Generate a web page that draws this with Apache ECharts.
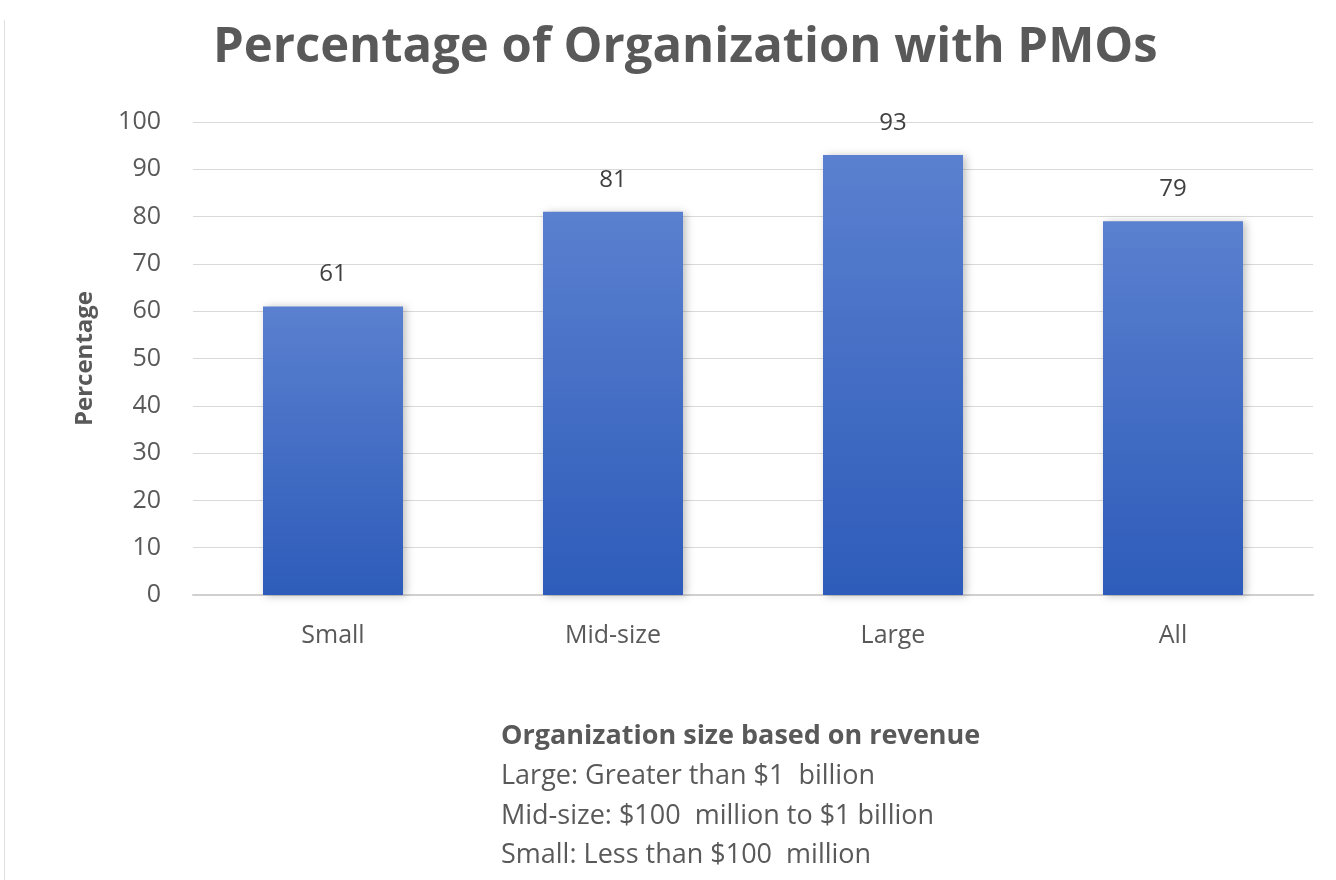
<!DOCTYPE html>
<html>
<head>
<meta charset="utf-8">
<script src="https://cdn.jsdelivr.net/npm/echarts@6/dist/echarts.min.js"></script>
<style>html,body{margin:0;padding:0;background:#fff;}#c{width:1336px;height:880px;}</style>
</head>
<body>
<div id="c"></div>
<script>
const titleText = 'Percentage of Organization with PMOs';
const categories = ['Small', 'Mid-size', 'Large', 'All'];
const values = [61, 81, 93, 79];
const yTicks = [0, 10, 20, 30, 40, 50, 60, 70, 80, 90, 100];
const yAxisName = 'Percentage';
const noteHeading = 'Organization size based on revenue';
const noteLines = ['Large: Greater than $1  billion', 'Mid-size: $100  million to $1 billion', 'Small: Less than $100  million'];

const chart = echarts.init(document.getElementById('c'));
const fontFam = '"Open Sans", "Noto Sans", sans-serif';
chart.setOption({
  backgroundColor: '#ffffff',
  animation: false,
  title: [{
    text: titleText,
    left: 208,
    top: 19,
    textStyle: { fontFamily: fontFam, fontSize: 49, fontWeight: 'bold', color: '#595959' }
  }, {
    text: noteHeading,
    left: 496,
    top: 718,
    textStyle: { fontFamily: fontFam, fontSize: 27, fontWeight: 'bold', color: '#595959' }
  }, {
    text: noteLines.join('\n'),
    left: 496,
    top: 752,
    textStyle: { fontFamily: fontFam, fontSize: 27, fontWeight: 'normal', color: '#595959', lineHeight: 39.3 }
  }],
  grid: { left: 193, right: 23, top: 122, bottom: 285, containLabel: false },
  xAxis: {
    type: 'category',
    data: categories,
    axisLine: { show: true, lineStyle: { color: '#d0d0d0', width: 2 } },
    axisTick: { show: false },
    axisLabel: { fontFamily: fontFam, fontSize: 25, color: '#595959', margin: 28 }
  },
  yAxis: {
    type: 'value',
    min: 0, max: 100, interval: 10,
    name: yAxisName,
    nameLocation: 'middle',
    nameGap: 96,
    nameTextStyle: { fontFamily: fontFam, fontSize: 24, fontWeight: 'bold', color: '#595959' },
    axisLine: { show: false },
    axisTick: { show: false },
    splitLine: { lineStyle: { color: '#d9d9d9', width: 1 } },
    axisLabel: {
      fontFamily: fontFam, fontSize: 25, color: '#595959', margin: 32,
      formatter: v => yTicks.includes(v) ? String(v) : ''
    }
  },
  series: [{
    type: 'bar',
    data: values,
    barWidth: '50%',
    itemStyle: {
      color: new echarts.graphic.LinearGradient(0, 0, 0, 1, [
        { offset: 0, color: '#5a80cf' },
        { offset: 1, color: '#2e5cba' }
      ]),
      shadowColor: 'rgba(0,0,0,0.25)',
      shadowBlur: 8,
      shadowOffsetX: 3,
      shadowOffsetY: 1
    },
    label: {
      show: true,
      position: 'top',
      distance: 20,
      fontFamily: fontFam, fontSize: 24, color: '#404040'
    }
  }],
  graphic: [{
    type: 'line',
    shape: { x1: 4.5, y1: 20, x2: 4.5, y2: 880 },
    style: { stroke: '#e0e0e0', lineWidth: 1 }
  }]
});
</script>
</body>
</html>
